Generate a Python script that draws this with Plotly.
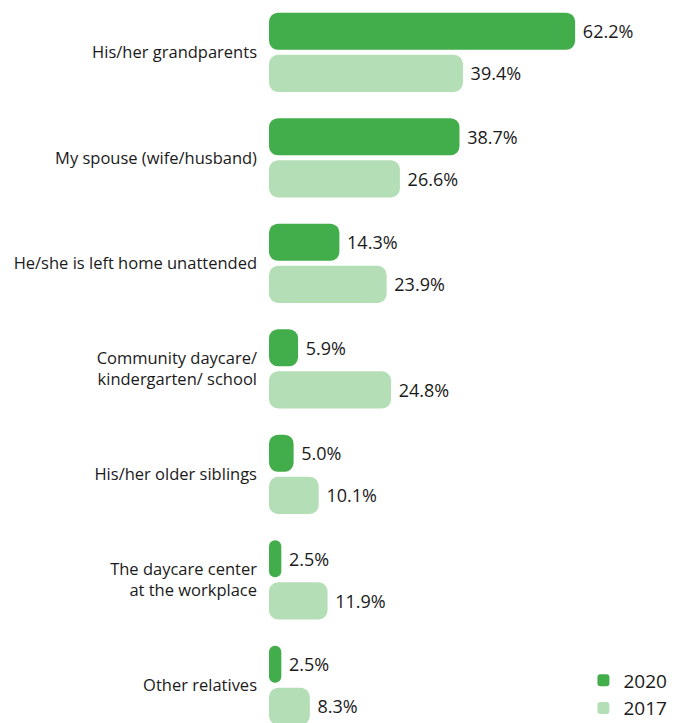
import plotly.graph_objects as go

categories = [
    "His/her grandparents",
    "My spouse (wife/husband)",
    "He/she is left home unattended",
    "Community daycare/<br>kindergarten/ school",
    "His/her older siblings",
    "The daycare center<br>at the workplace",
    "Other relatives",
]
values_2020 = [62.2, 38.7, 14.3, 5.9, 5.0, 2.5, 2.5]
values_2017 = [39.4, 26.6, 23.9, 24.8, 10.1, 11.9, 8.3]

DARK = "#42AD4B"
LIGHT = "#B4DFB6"
TEXT = "#1a1a1a"
FONT = "Open Sans"

fig = go.Figure()
for name, vals, color in [("2020", values_2020, DARK), ("2017", values_2017, LIGHT)]:
    # An explicit zero base makes the corner radius apply to both ends.
    fig.add_trace(go.Bar(
        y=categories, x=vals, base=[0] * len(vals), name=name,
        orientation="h",
        marker=dict(color=color, line=dict(width=0)),
        text=[f"\u00a0{v:.1f}%" for v in vals], textposition="outside",
        textfont=dict(family=FONT, size=18, color=TEXT),
        cliponaxis=False, hoverinfo="skip",
    ))

fig.update_layout(
    width=680, height=723,
    margin=dict(l=269, r=0, t=0, b=0, autoexpand=False),
    paper_bgcolor="white", plot_bgcolor="white",
    barmode="group", bargap=0.2, bargroupgap=0.12, barcornerradius=9,
    font=dict(family=FONT, color=TEXT),
    xaxis=dict(range=[0, 83.5], visible=False),
    yaxis=dict(range=[6.357, -0.496], showgrid=False, zeroline=False,
               showline=False, ticks="", ticklabelstandoff=11,
               tickfont=dict(family=FONT, size=16.5, color=TEXT)),
    legend=dict(x=0.765, y=-0.006, xanchor="left", yanchor="bottom",
                font=dict(family=FONT, size=19, color=TEXT),
                bgcolor="rgba(0,0,0,0)", tracegroupgap=0, itemwidth=30),
    showlegend=True,
)

fig.write_html("out.html")
